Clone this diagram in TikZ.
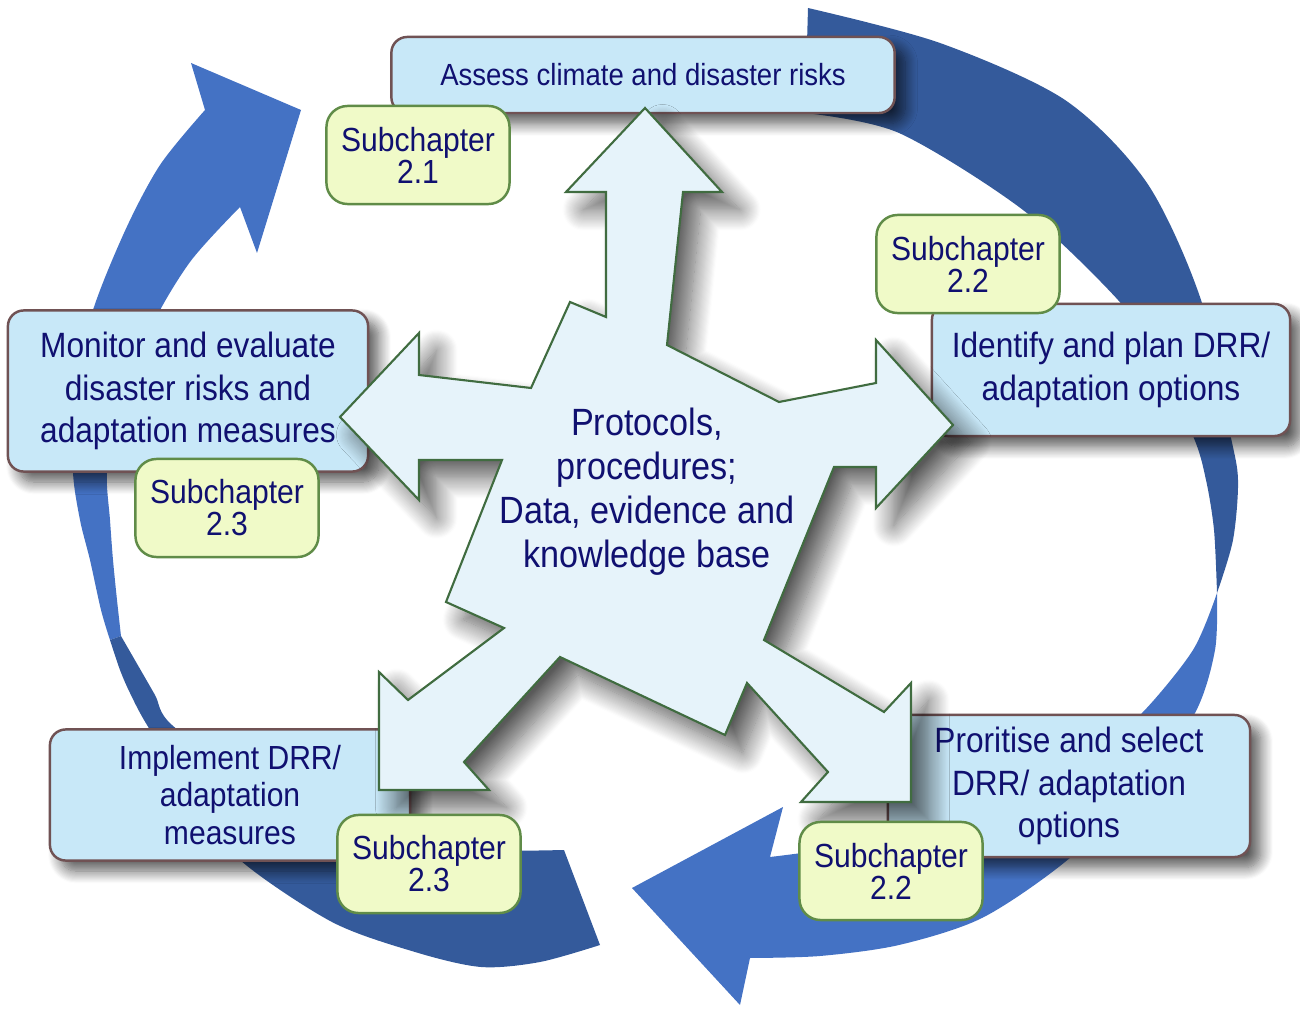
\documentclass[tikz,border=0pt]{standalone}
\usepackage{fontspec}
\setmainfont[FakeStretch=0.9]{Liberation Sans}
\usetikzlibrary{shadows.blur}

\definecolor{ringlight}{RGB}{68,114,196}
\definecolor{ringdark}{RGB}{52,90,155}
\definecolor{stagefill}{RGB}{200,232,248}
\definecolor{stageline}{RGB}{112,82,84}
\definecolor{subfill}{RGB}{240,250,200}
\definecolor{subline}{RGB}{96,140,72}
\definecolor{hubfill}{RGB}{230,243,250}
\definecolor{hubline}{RGB}{64,108,64}
\definecolor{navy}{RGB}{16,16,112}

\tikzset{
  stage/.style={draw=stageline, line width=0.7pt, fill=stagefill,
    rounded corners=4.5pt, align=center, text=navy, inner sep=0pt,
    font=\fontsize{10}{12}\selectfont,
    blur shadow={shadow xshift=3pt, shadow yshift=-3pt,
      shadow blur radius=3.5pt, shadow blur steps=12, shadow opacity=65}},
  subch/.style={draw=subline, line width=0.7pt, fill=subfill,
    rounded corners=6pt, align=center, text=navy, inner sep=0pt,
    minimum width=1.83cm, minimum height=0.98cm,
    font=\fontsize{9.5}{9.1}\selectfont},
  hub/.style={draw=hubline, line width=0.6pt, fill=hubfill,
    blur shadow={shadow xshift=5pt, shadow yshift=-5pt,
      shadow blur radius=6pt, shadow blur steps=20, shadow opacity=65}},
}

\begin{document}
\begin{tikzpicture}[x=0.01cm, y=-0.01cm]
      \useasboundingbox (0,0) rectangle (1300,1010) ;
      % left half of the ring, twisted near the bottom
      \fill[ringlight] (191,63) -- (301,110) -- (257,253) -- (240,207)
        -- plot[smooth] coordinates {(240,207) (190,262) (150,330) (118,420)
          (107,472) (110,520) (113,560) (117,600) (121,636)}
        -- plot[smooth] coordinates {(110,640) (101,610) (90,560) (80,520)
          (73,472) (76,410) (90,320) (124,233) (160,165) (205,110)}
        -- cycle ;
      \fill[ringdark] plot[smooth] coordinates {(110,640) (120,670) (130,693)
          (147,725) (195,800) (240,860) (332,922) (415,952) (481,967) (540,962)
          (600,945)}
        -- (564,850)
        -- plot[smooth] coordinates {(564,850) (450,850) (350,835) (260,790)
          (172,725) (155,695) (136,662) (121,636)}
        -- cycle ;
      % right half of the ring
      \fill[ringdark] plot[smooth] coordinates {(808,8) (940,43) (1065,100)
          (1147,183) (1201,300) (1230,433) (1238,480) (1233,540) (1217,593)}
        -- plot[smooth] coordinates {(1217,593) (1214,530) (1206,480)
          (1193,436) (1150,350) (1118,300) (1023,210) (899,133) (805,113)}
        -- cycle ;
      \fill[ringlight] plot[smooth] coordinates {(1217,593) (1215,650)
          (1195,713) (1140,790) (1065,862) (982,918) (899,945) (820,956) (750,958)}
        -- (740,1005) -- (632,888) -- (783,807) -- (770,857)
        -- plot[smooth] coordinates {(770,857) (880,840) (1000,800) (1090,755)
          (1142,713) (1193,650) (1217,593)}
        -- cycle ;

      \node[stage, minimum width=5.03cm, minimum height=0.76cm,
        font=\fontsize{8.7}{10}\selectfont] (As) at (643,75)
        {Assess climate and disaster risks} ;
      \node[stage, minimum width=3.6cm, minimum height=1.61cm] (Mo) at (188,391)
        {Monitor and evaluate\\disaster risks and\\adaptation measures} ;
      \node[stage, minimum width=3.58cm, minimum height=1.32cm] (Id) at (1111,370)
        {Identify and plan DRR/\\adaptation options} ;
      \node[stage, minimum width=3.6cm, minimum height=1.31cm,
        font=\fontsize{9.5}{10.7}\selectfont] (Im) at (230,795)
        {Implement DRR/\\adaptation\\measures} ;
      \node[stage, minimum width=3.62cm, minimum height=1.42cm] (Pr) at (1069,786)
        {Proritise and select\\DRR/ adaptation\\options} ;

      % five-armed hub
      \path[hub] (645,108) -- (722,192) -- (683,192) -- (667,345) -- (779,402)
        -- (876,383) -- (876,340) -- (953,425) -- (876,508) -- (876,467)
        -- (834,467) -- (764,640) -- (884,712) -- (911,683) -- (911,802)
        -- (801,802) -- (828,772) -- (747,683) -- (725,735) -- (560,657)
        -- (464,762) -- (489,790) -- (379,790) -- (379,672) -- (408,700)
        -- (504,628) -- (446,602) -- (502,460) -- (419,460) -- (419,500)
        -- (340,417) -- (419,333) -- (419,375) -- (531,388) -- (570,302)
        -- (606,317) -- (606,192) -- (566,192) -- cycle ;
      \node[align=center, text=navy, font=\fontsize{10.8}{12.5}\selectfont]
        (H) at (647,492) {Protocols,\\procedures;\\Data, evidence and\\knowledge base} ;

      \node[subch] (S1) at (418,155) {Subchapter\\2.1} ;
      \node[subch] (S2) at (968,264) {Subchapter\\2.2} ;
      \node[subch] (S3) at (227,508) {Subchapter\\2.3} ;
      \node[subch] (S4) at (429,864) {Subchapter\\2.3} ;
      \node[subch] (S5) at (891,871) {Subchapter\\2.2} ;
\end{tikzpicture}
\end{document}
